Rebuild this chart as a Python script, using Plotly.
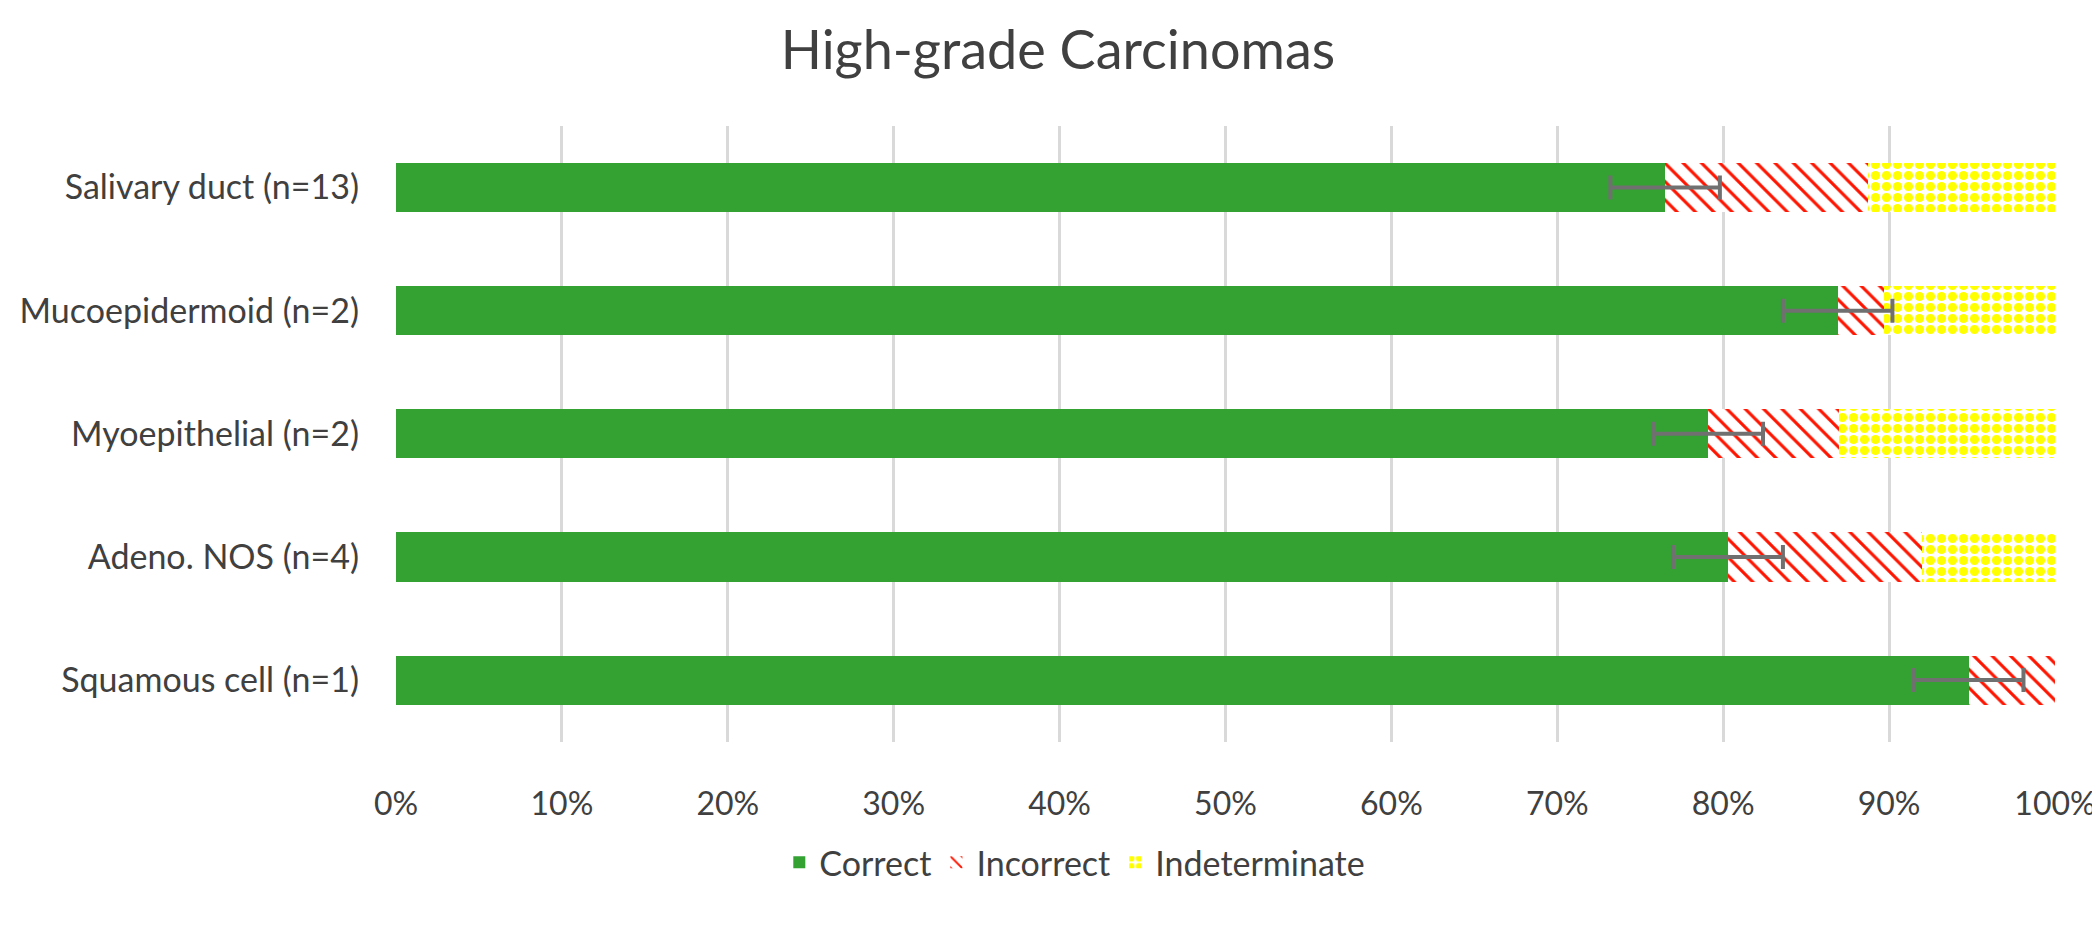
import plotly.graph_objects as go

# categories listed bottom -> top (plotly horizontal bar order)
categories = ["Squamous cell (n=1)", "Adeno. NOS (n=4)", "Myoepithelial (n=2)",
              "Mucoepidermoid (n=2)", "Salivary duct (n=13)"]
correct = [94.8, 80.3, 79.1, 86.9, 76.5]
incorrect = [5.2, 11.7, 7.9, 2.8, 12.2]
indeterminate = [0.0, 8.0, 13.0, 10.3, 11.3]
correct_err = [3.3, 3.3, 3.3, 3.3, 3.3]

TXT = "#404040"
FONT = "Lato, 'Open Sans', sans-serif"

fig = go.Figure()

fig.add_bar(y=categories, x=correct, orientation="h", name="Correct",
            marker=dict(color="#33A233", line=dict(width=0)))
fig.add_bar(y=categories, x=incorrect, orientation="h", name="Incorrect",
            marker=dict(color="#FF0000", line=dict(width=0),
                        pattern=dict(shape="\\", fgcolor="#FF1400", bgcolor="white",
                                     fgopacity=1, fillmode="overlay",
                                     size=13, solidity=0.24)))
fig.add_bar(y=categories, x=indeterminate, orientation="h", name="Indeterminate",
            marker=dict(color="#FFFF00", line=dict(width=0),
                        pattern=dict(shape=".", fgcolor="#FFFF00", bgcolor="white",
                                     fgopacity=1, fillmode="overlay",
                                     size=11, solidity=0.55)))

# error bars drawn on top of the stacked segments
fig.add_scatter(y=categories, x=correct, mode="markers", showlegend=False,
                marker=dict(size=1, color="rgba(0,0,0,0)"), hoverinfo="skip",
                error_x=dict(type="data", array=correct_err, color="#707070",
                             thickness=4, width=12))

fig.update_layout(
    width=2100, height=927,
    barmode="stack", bargap=0.6,
    paper_bgcolor="white", plot_bgcolor="white",
    font=dict(family=FONT, size=34, color=TXT),
    title=dict(text="High-grade Carcinomas", x=0.5, xanchor="center",
               xref="container", yref="container",
               y=0.975, yanchor="top", font=dict(size=54, color=TXT)),
    margin=dict(l=388, r=43, t=118, b=167),
    xaxis=dict(range=[0, 100], dtick=10, ticksuffix="%", showgrid=True,
               gridcolor="#D9D9D9", gridwidth=3, zeroline=False, showline=False,
               ticks="", ticklabelstandoff=40, tickfont=dict(size=32),
               fixedrange=True),
    yaxis=dict(showgrid=False, zeroline=False, showline=False, ticks="",
               ticklabelstandoff=36, tickfont=dict(size=34)),
    legend=dict(orientation="h", x=0.508, xanchor="center", xref="container",
                y=0.078, yanchor="middle", yref="container",
                font=dict(size=34, color=TXT), traceorder="normal",
                itemwidth=30),
    showlegend=True,
)

fig.write_html("out.html")
